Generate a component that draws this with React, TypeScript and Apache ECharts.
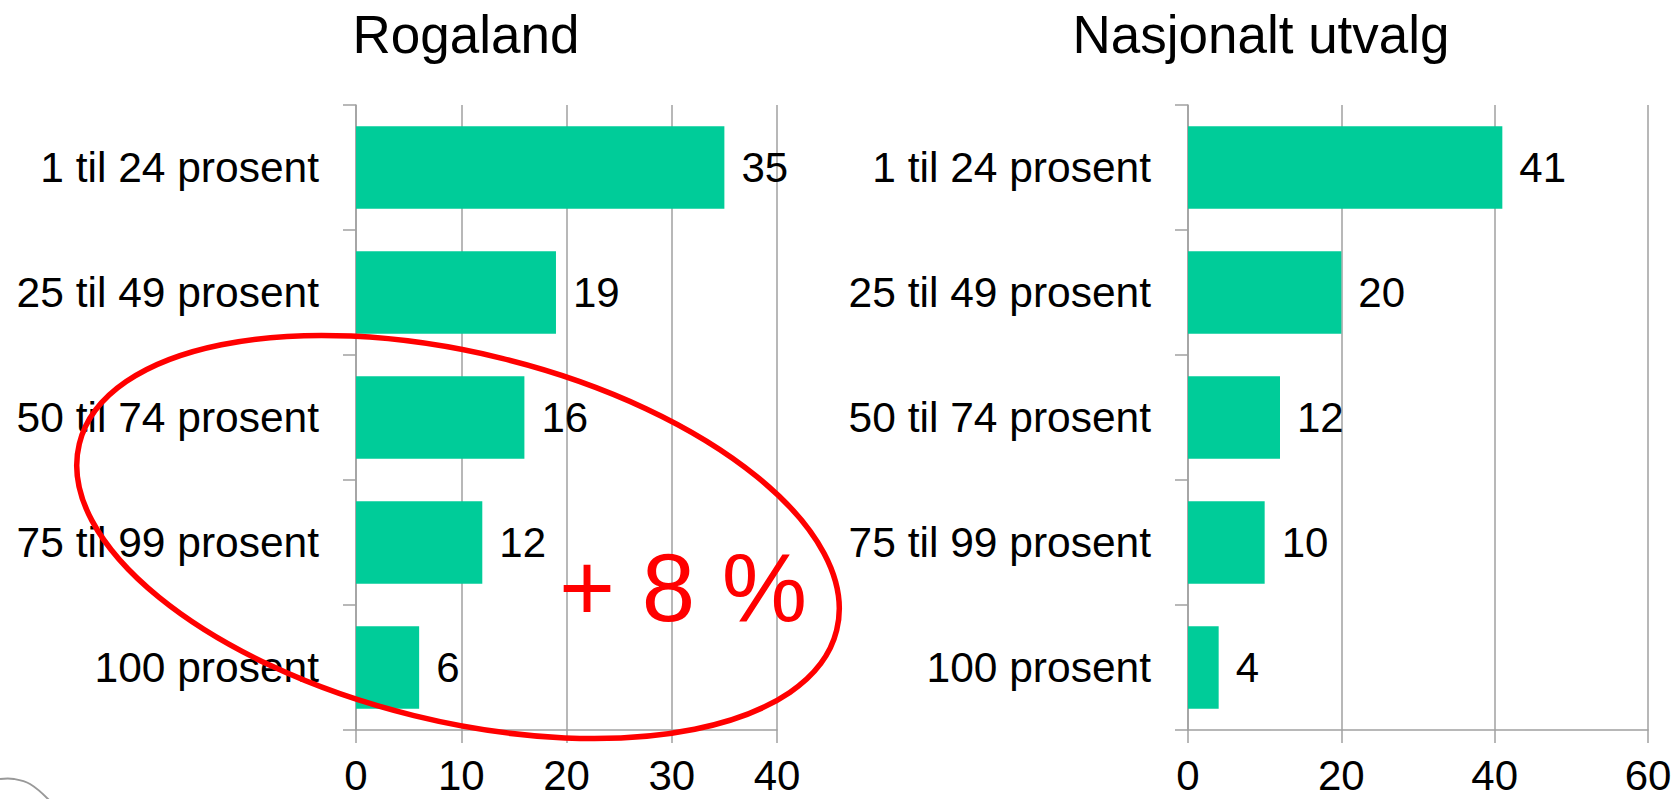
import React, { useEffect, useRef } from "react";
import * as echarts from "echarts";

const categories = [
  "1 til 24 prosent",
  "25 til 49 prosent",
  "50 til 74 prosent",
  "75 til 99 prosent",
  "100 prosent",
];
const rogalandValues = [35, 19, 16, 12, 6];
const nationalValues = [41, 20, 12, 10, 4];
const titles = ["Rogaland", "Nasjonalt utvalg"];
const rogalandAxis = { min: 0, max: 40, interval: 10 };
const nationalAxis = { min: 0, max: 60, interval: 20 };
const annotationText = "+ 8 %";

const FONT = "'Liberation Sans', Arial, Helvetica, sans-serif";
const GRID_COLOR = "#A0A0A0";
const BAR_COLOR = "#00CC99";

export default function App() {
  const ref = useRef<HTMLDivElement>(null);

  useEffect(() => {
    if (!ref.current) return;
    const chart = echarts.init(ref.current, undefined, { renderer: "svg" });

    const lineStyle = { color: GRID_COLOR, width: 1.5 };

    const makeX = (gridIndex: number, ax: { min: number; max: number; interval: number }) => ({
      type: "value",
      gridIndex,
      min: ax.min,
      max: ax.max,
      interval: ax.interval,
      axisLine: { show: true, lineStyle },
      axisTick: { show: true, length: 13, lineStyle },
      splitLine: { show: true, lineStyle },
      axisLabel: {
        show: true,
        margin: 25,
        fontSize: 42,
        lineHeight: 40,
        color: "#000",
        fontFamily: FONT,
      },
    });

    const makeY = (gridIndex: number) => ({
      type: "category",
      gridIndex,
      data: categories,
      inverse: true,
      axisLine: { show: true, lineStyle },
      axisTick: { show: true, length: 13, lineStyle },
      splitLine: { show: false },
      axisLabel: {
        show: true,
        margin: 37,
        fontSize: 42.5,
        color: "#000",
        fontFamily: FONT,
      },
    });

    const makeSeries = (idx: number, values: number[]) => ({
      type: "bar",
      xAxisIndex: idx,
      yAxisIndex: idx,
      data: values,
      barCategoryGap: "34%",
      itemStyle: { color: BAR_COLOR },
      label: {
        show: true,
        position: "right",
        distance: 17,
        fontSize: 42,
        color: "#000",
        fontFamily: FONT,
      },
      z: 2,
    });

    chart.setOption({
      animation: false,
      backgroundColor: "#fff",
      grid: [
        { left: 356, top: 105, width: 421, height: 625, containLabel: false },
        { left: 1188, top: 105, width: 460, height: 625, containLabel: false },
      ],
      xAxis: [makeX(0, rogalandAxis), makeX(1, nationalAxis)],
      yAxis: [makeY(0), makeY(1)],
      series: [makeSeries(0, rogalandValues), makeSeries(1, nationalValues)],
      graphic: [
        {
          type: "text",
          x: 466,
          y: 34,
          style: {
            text: titles[0],
            fontSize: 53,
            fontFamily: FONT,
            fill: "#000",
            align: "center",
            verticalAlign: "middle",
          },
          z: 10,
        },
        {
          type: "text",
          x: 1261,
          y: 34,
          style: {
            text: titles[1],
            fontSize: 53,
            fontFamily: FONT,
            fill: "#000",
            align: "center",
            verticalAlign: "middle",
          },
          z: 10,
        },
        {
          type: "ellipse",
          x: 458,
          y: 537,
          rotation: -0.2417,
          shape: { cx: 0, cy: 0, rx: 390, ry: 184 },
          style: { fill: "none", stroke: "#FF0000", lineWidth: 5.5 },
          z: 20,
        },
        {
          type: "text",
          x: 559,
          y: 587,
          style: {
            text: annotationText,
            fontSize: 96,
            fontFamily: FONT,
            fill: "#FF0000",
            align: "left",
            verticalAlign: "middle",
          },
          z: 20,
        },
        {
          type: "polyline",
          shape: {
            points: [
              [0, 779],
              [14, 779],
              [30, 784],
              [49, 800],
            ],
            smooth: 0.4,
          },
          style: { fill: "none", stroke: "#999999", lineWidth: 2 },
          z: 5,
        },
      ],
    });

    return () => {
      chart.dispose();
    };
  }, []);

  return (
    <div
      ref={ref}
      style={{
        position: "fixed",
        left: 0,
        top: 0,
        width: "1677px",
        height: "799px",
        background: "#fff",
      }}
    />
  );
}
